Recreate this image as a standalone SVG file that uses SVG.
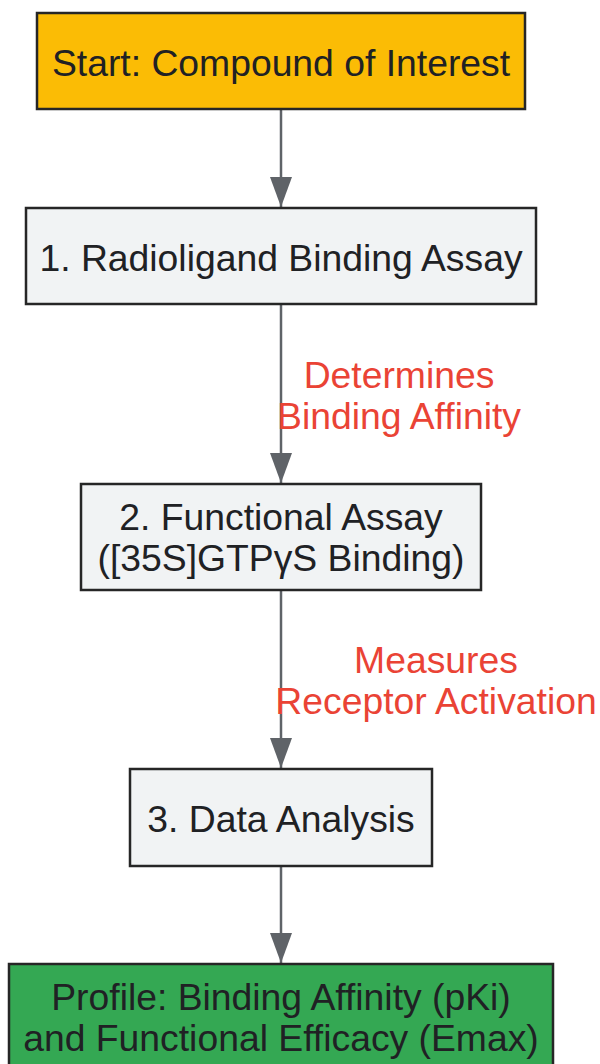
<svg xmlns="http://www.w3.org/2000/svg" width="600" height="1064" viewBox="0 0 600 1064">
<style>
.node rect{stroke:#262626;stroke-width:2.5}
.nt{font-family:"Liberation Sans",Arial,sans-serif;font-size:37.3px;fill:#202124;text-anchor:middle}
.lt{font-family:"Liberation Sans",Arial,sans-serif;font-size:37.3px;fill:#EA4335;text-anchor:middle}
.edge{stroke:#5F6368;stroke-width:2.5;fill:none}
</style>
<defs>
<marker id="arr" markerUnits="userSpaceOnUse" markerWidth="30" markerHeight="22" refX="30" refY="11" orient="auto" viewBox="0 0 30 22">
<path d="M0,0 L30,11 L0,22 Z" fill="#5F6368"/>
</marker>
</defs>
<rect width="600" height="1064" fill="#FFFFFF"/>
<g id="edges">
<line class="edge" x1="281" y1="110" x2="281" y2="207" marker-end="url(#arr)"/>
<line class="edge" x1="281" y1="305" x2="281" y2="483" marker-end="url(#arr)"/>
<line class="edge" x1="281" y1="591" x2="281" y2="768" marker-end="url(#arr)"/>
<line class="edge" x1="281" y1="867" x2="281" y2="963" marker-end="url(#arr)"/>
<text class="lt" x="399" y="388">Determines</text>
<text class="lt" x="399" y="429">Binding Affinity</text>
<text class="lt" x="436" y="673">Measures</text>
<text class="lt" x="436" y="714">Receptor Activation</text>
</g>
<g id="start" class="node">
<rect x="37" y="13" width="488" height="96" fill="#FBBC05"/>
<text class="nt" x="281" y="76">Start: Compound of Interest</text>
</g>
<g id="radioligand" class="node">
<rect x="26" y="208" width="510" height="96" fill="#F1F3F4"/>
<text class="nt" x="281" y="271">1. Radioligand Binding Assay</text>
</g>
<g id="functional" class="node">
<rect x="81" y="484" width="400" height="106" fill="#F1F3F4"/>
<text class="nt" x="281" y="530">2. Functional Assay</text>
<text class="nt" x="281" y="571">([35S]GTPγS Binding)</text>
</g>
<g id="analysis" class="node">
<rect x="130" y="769" width="302" height="97" fill="#F1F3F4"/>
<text class="nt" x="281" y="832">3. Data Analysis</text>
</g>
<g id="profile" class="node">
<rect x="9" y="964" width="544" height="106" fill="#34A853"/>
<text class="nt" x="281" y="1010">Profile: Binding Affinity (pKi)</text>
<text class="nt" x="281" y="1051">and Functional Efficacy (Emax)</text>
</g>
</svg>
